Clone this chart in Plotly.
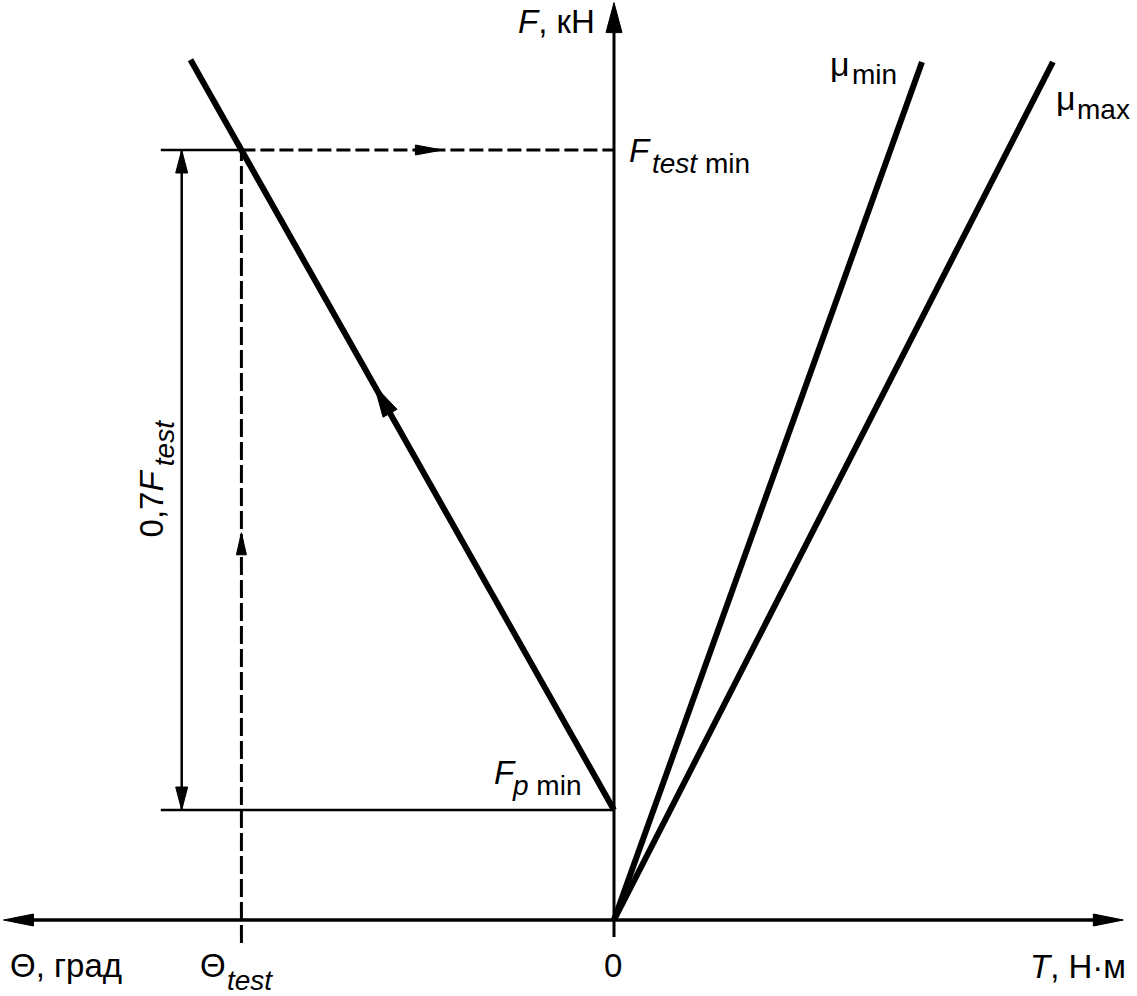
import numpy as np
import plotly.graph_objects as go

# ---- schematic values (arbitrary units; T to the right, Θ to the left, F up) ----
F_P_MIN = 1.0            # preload F_p min
F_TEST_MIN = 7.0         # F_test min
LOAD_X = [0.0, -3.85]    # loading line (Θ side)
LOAD_F = [1.0, 7.82]
MU_MIN_X = [0.0, 2.80]   # μ_min line (T side)
MU_MIN_F = [0.0, 7.80]
MU_MAX_X = [0.0, 3.99]   # μ_max line
MU_MAX_F = [0.0, 7.80]
X_AXIS = [-5.55, 4.63]   # horizontal axis extent
F_AXIS = [-0.155, 8.34]  # vertical axis extent
REF_LEFT = -4.12         # left end of reference horizontals
DIM_X = -3.93            # dimension line position

# Θ_test from the loading line at F_test
THETA_TEST = float(np.interp(F_TEST_MIN, LOAD_F, LOAD_X))

W, H = 1137, 996
OX, OY, PX = 614.0, 920.0, 110.0   # origin pixel and pixels per unit
XR = [-OX / PX, (W - OX) / PX]
YR = [(OY - H) / PX, OY / PX]

BLACK = "black"
FONT = "Liberation Sans, Arial, sans-serif"
MAIN, SUB, MU = 33, 28, 34

fig = go.Figure()


def line(xs, ys, width, dash="solid"):
    fig.add_trace(go.Scatter(x=xs, y=ys, mode="lines",
                             line=dict(color=BLACK, width=width, dash=dash),
                             hoverinfo="skip", showlegend=False))


def head(tip, direction, length_px, half_px):
    d = np.array(direction, float)
    d /= np.linalg.norm(d)
    n = np.array([-d[1], d[0]])
    t = np.array(tip, float)
    b = t - d * length_px / PX
    p1 = b + n * half_px / PX
    p2 = b - n * half_px / PX
    fig.add_trace(go.Scatter(x=[t[0], p1[0], p2[0], t[0]], y=[t[1], p1[1], p2[1], t[1]],
                             mode="lines", fill="toself", fillcolor=BLACK,
                             line=dict(color=BLACK, width=1),
                             hoverinfo="skip", showlegend=False))


# axes
line([X_AXIS[0] + 0.1, X_AXIS[1] - 0.1], [0, 0], 3.5)
line([0, 0], [F_AXIS[0], F_AXIS[1] - 0.1], 3)
head((X_AXIS[1], 0), (1, 0), 30, 6)
head((X_AXIS[0], 0), (-1, 0), 30, 6)
head((0, F_AXIS[1]), (0, 1), 30, 8)

# reference horizontals
line([REF_LEFT, 0], [F_P_MIN, F_P_MIN], 2.5)
line([REF_LEFT, THETA_TEST], [F_TEST_MIN, F_TEST_MIN], 2.5)
line([THETA_TEST, 0], [F_TEST_MIN, F_TEST_MIN], 3, dash="14px,5px")
head((-1.56, F_TEST_MIN), (1, 0), 27, 5)

# Θ_test dashed vertical
line([THETA_TEST, THETA_TEST], [-0.21, F_TEST_MIN], 3, dash="18px,5px")
head((THETA_TEST, 3.52), (0, 1), 22, 5)

# dimension line 0,7 F_test
line([DIM_X, DIM_X], [F_P_MIN, F_TEST_MIN], 2.5)
head((DIM_X, F_TEST_MIN), (0, 1), 23, 6)
head((DIM_X, F_P_MIN), (0, -1), 23, 6)

# main lines
line(LOAD_X, LOAD_F, 6)
line(MU_MIN_X, MU_MIN_F, 6)
line(MU_MAX_X, MU_MAX_F, 6)

# arrow on loading line
dvec = (LOAD_X[1] - LOAD_X[0], LOAD_F[1] - LOAD_F[0])
tip_f = 4.86
tip_x = float(np.interp(tip_f, LOAD_F, LOAD_X))
head((tip_x, tip_f), dvec, 32, 8)


# ---- texts (placed by baseline in pixels) ----
def text(s, px, base_py, size, anchor="left"):
    cy = base_py - 0.35 * size
    fig.add_annotation(x=(px - OX) / PX, y=(OY - cy) / PX, text=s, showarrow=False,
                       xanchor=anchor, yanchor="middle", borderpad=0,
                       font=dict(family=FONT, size=size, color=BLACK))


def vtext(s, base_px, start_py, size):
    cx = base_px - 0.35 * size
    fig.add_annotation(x=(cx - OX) / PX, y=(OY - start_py) / PX, text=s, showarrow=False,
                       xanchor="center", yanchor="bottom", textangle=-90, borderpad=0,
                       font=dict(family=FONT, size=size, color=BLACK))


text("<i>F</i>, кН", 596, 33, MAIN, "right")
text("<i>F</i>", 628, 162, MAIN)
text("<i>test</i> min", 651, 173, SUB)
text("μ", 829, 76, MU)
text("min", 851, 84, SUB)
text("μ", 1055, 110, MU)
text("max", 1076, 119, SUB)
text("<i>F</i>", 493, 784, MAIN)
text("<i>p</i> min", 511, 795, SUB)
vtext("0,7<i>F</i>", 163, 538, MAIN)
vtext("<i>test</i>", 174, 467, SUB)
text("Θ, град", 9, 977, MAIN)
text("Θ", 199, 977, MAIN)
text("<i>test</i>", 226, 990, SUB)
text("0", 613, 977, MAIN, "center")
text("<i>T</i>, Н·м", 1127, 978, MAIN, "right")

fig.update_layout(
    width=W, height=H,
    margin=dict(l=0, r=0, t=0, b=0),
    paper_bgcolor="white", plot_bgcolor="white",
    xaxis=dict(range=XR, visible=False, fixedrange=True),
    yaxis=dict(range=YR, visible=False, fixedrange=True),
    showlegend=False,
)

fig.write_html("out.html", config={"displayModeBar": False},
               post_script="document.body.style.margin='0';")
